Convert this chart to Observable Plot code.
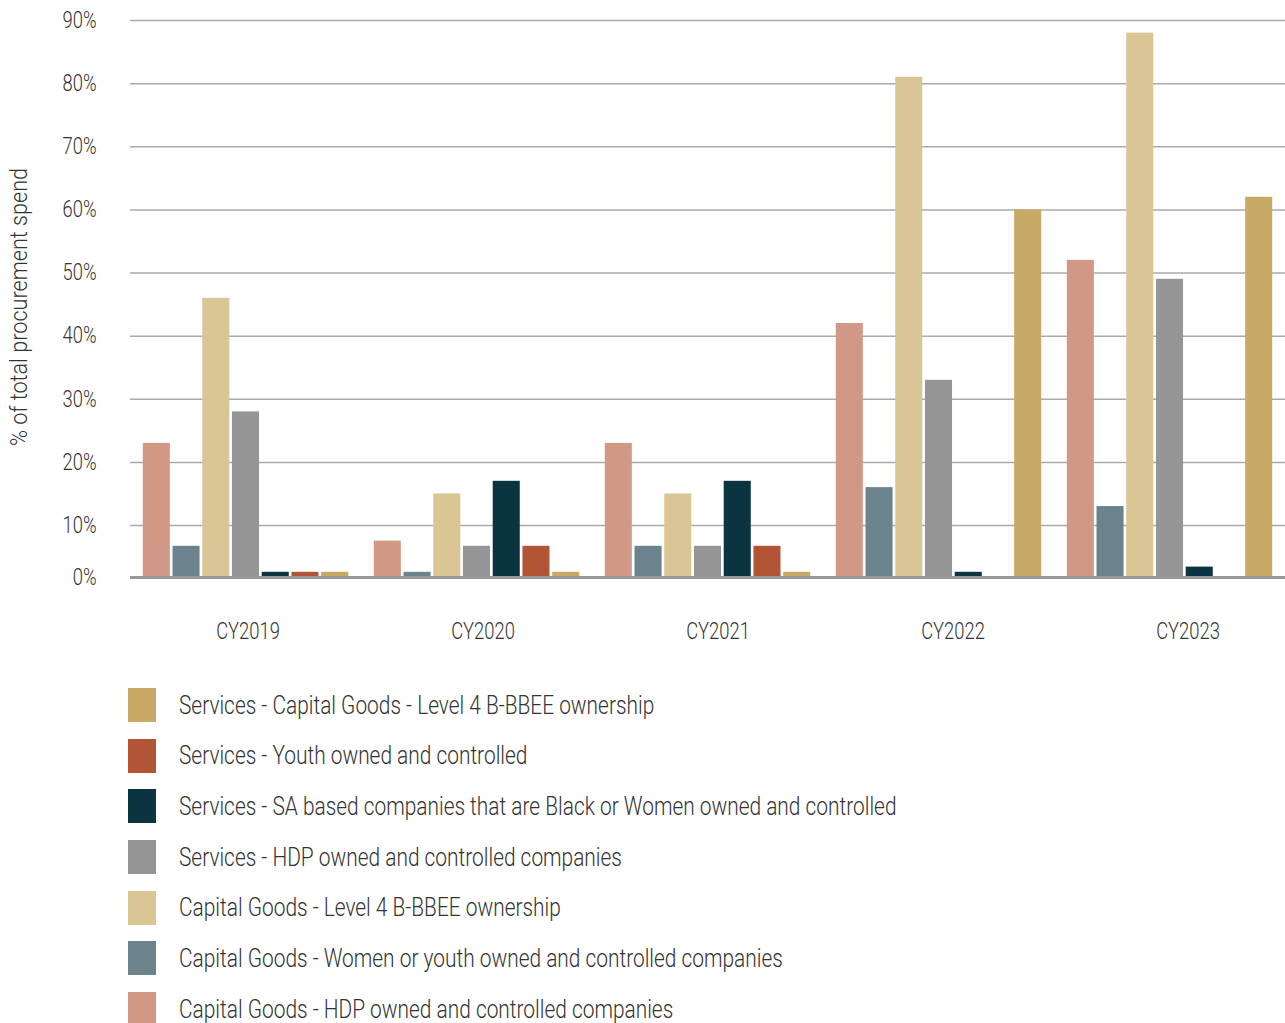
<!DOCTYPE html>
<html>
<head>
<meta charset="utf-8">
<script src="https://cdn.jsdelivr.net/npm/d3@7"></script>
<script src="https://cdn.jsdelivr.net/npm/@observablehq/plot@0.6"></script>
<style>
  html, body { margin: 0; padding: 0; background: #fff; }
  body {
    width: 1285px; height: 1023px; position: relative; overflow: hidden;
    font-family: "Roboto", "Noto Sans", sans-serif; font-weight: 300;
    color: #333;
  }
  #chart { position: absolute; left: 0; top: 0; }
  #years { position: absolute; left: 0; top: 611px; }
  #ylabel {
    position: absolute; left: 19px; top: 307px;
    transform: translate(-50%, -50%) rotate(-90deg) scaleX(0.9);
    white-space: nowrap; font-size: 24px;
  }
  #legend { position: absolute; left: 128px; top: 688px; }
  .item { display: flex; align-items: center; height: 34px; margin-bottom: 16.7px; }
  .swatch { width: 28px; height: 34px; margin-right: 23px; flex: none; }
  .item span {
    display: inline-block; font-size: 25px; white-space: nowrap;
    transform: scaleX(0.835); transform-origin: 0 50%;
  }
</style>
</head>
<body>
<div id="chart"></div>
<div id="years"></div>
<div id="ylabel">% of total procurement spend</div>
<div id="legend"></div>
<script>
// Reporting years
const years = ["CY2019", "CY2020", "CY2021", "CY2022", "CY2023"];

// Series, in the order bars are drawn within each year
const series = [
  "Capital Goods - HDP owned and controlled companies",
  "Capital Goods - Women or youth owned and controlled companies",
  "Capital Goods - Level 4 B-BBEE ownership",
  "Services - HDP owned and controlled companies",
  "Services - SA based companies that are Black or Women owned and controlled",
  "Services - Youth owned and controlled",
  "Services - Capital Goods - Level 4 B-BBEE ownership"
];

const colors = ["#d19886", "#6b838c", "#dac694", "#949594", "#0a3440", "#b25537", "#c9a966"];

// % of total procurement spend per series, CY2019..CY2023
const hdpCapitalGoods     = [23, 7, 23, 42, 52];
const womenYouthCapital   = [6, 1, 6, 16, 13];
const level4CapitalGoods  = [46, 15, 15, 81, 88];
const hdpServices         = [28, 6, 6, 33, 49];
const saBlackWomenServ    = [1, 17, 17, 1, 2];
const youthServices       = [1, 6, 6, 0, 0];
const level4Services      = [1, 1, 1, 60, 62];

const yTicks = [0, 10, 20, 30, 40, 50, 60, 70, 80, 90];

const seriesValues = [hdpCapitalGoods, womenYouthCapital, level4CapitalGoods, hdpServices,
                      saBlackWomenServ, youthServices, level4Services];

const rows = [];
years.forEach((year, i) => {
  series.forEach((s, j) => rows.push({year, series: s, value: seriesValues[j][i]}));
});

const fontStyle = {fontFamily: '"Roboto", "Noto Sans", sans-serif', fontWeight: 300,
                   fontSize: "23px", color: "#333", background: "transparent"};

// narrow axis lettering to a condensed width
function condense(svg, selector, k) {
  d3.select(svg).selectAll(selector).attr("transform", function () {
    return (this.getAttribute("transform") || "") + ` scale(${k},1)`;
  });
}

const chart = Plot.plot({
  width: 1285,
  height: 660,
  marginLeft: 130,
  marginRight: 0,
  marginTop: 20,
  marginBottom: 83,
  style: fontStyle,
  facet: {data: rows, x: "year"},
  fx: {domain: years, padding: 0, round: false, axis: null},
  x: {domain: series, axis: null, paddingInner: 0.09, paddingOuter: 0.43, round: false},
  // piecewise scale: the 0–10% band is drawn shorter than the bands above it
  y: {type: "linear", domain: [0, 10, 90], range: [577, 525, 20], ticks: yTicks,
      tickFormat: d => d + "%", tickSize: 0, tickPadding: 34, label: null},
  color: {domain: series, range: colors},
  marks: [
    Plot.ruleY(yTicks.slice(1), {stroke: "#aaa", strokeWidth: 1.5}),
    Plot.barY(rows, {x: "series", y: "value", fill: "series"}),
    Plot.ruleY([0], {stroke: "#999", strokeWidth: 3})
  ]
});
condense(chart, "g[aria-label='y-axis tick label'] text", 0.8);
document.getElementById("chart").appendChild(chart);

// Year labels along the bottom, on their own evenly spaced band scale
const yearAxis = Plot.plot({
  width: 1305,
  height: 40,
  marginLeft: 130,
  marginRight: 0,
  marginTop: 0,
  marginBottom: 0,
  style: {...fontStyle, maxWidth: "none", overflow: "visible"},
  x: {domain: years, axis: null, round: false},
  y: {axis: null},
  marks: [
    Plot.text(years, {x: d => d, frameAnchor: "middle", fill: "#333"})
  ]
});
condense(yearAxis, "text", 0.8);
document.getElementById("years").appendChild(yearAxis);

// Legend, listed from the last series to the first
const legend = document.getElementById("legend");
series.slice().reverse().forEach((s) => {
  const item = document.createElement("div");
  item.className = "item";
  const sw = document.createElement("div");
  sw.className = "swatch";
  sw.style.background = colors[series.indexOf(s)];
  const label = document.createElement("span");
  label.textContent = s;
  item.appendChild(sw);
  item.appendChild(label);
  legend.appendChild(item);
});
</script>
</body>
</html>
